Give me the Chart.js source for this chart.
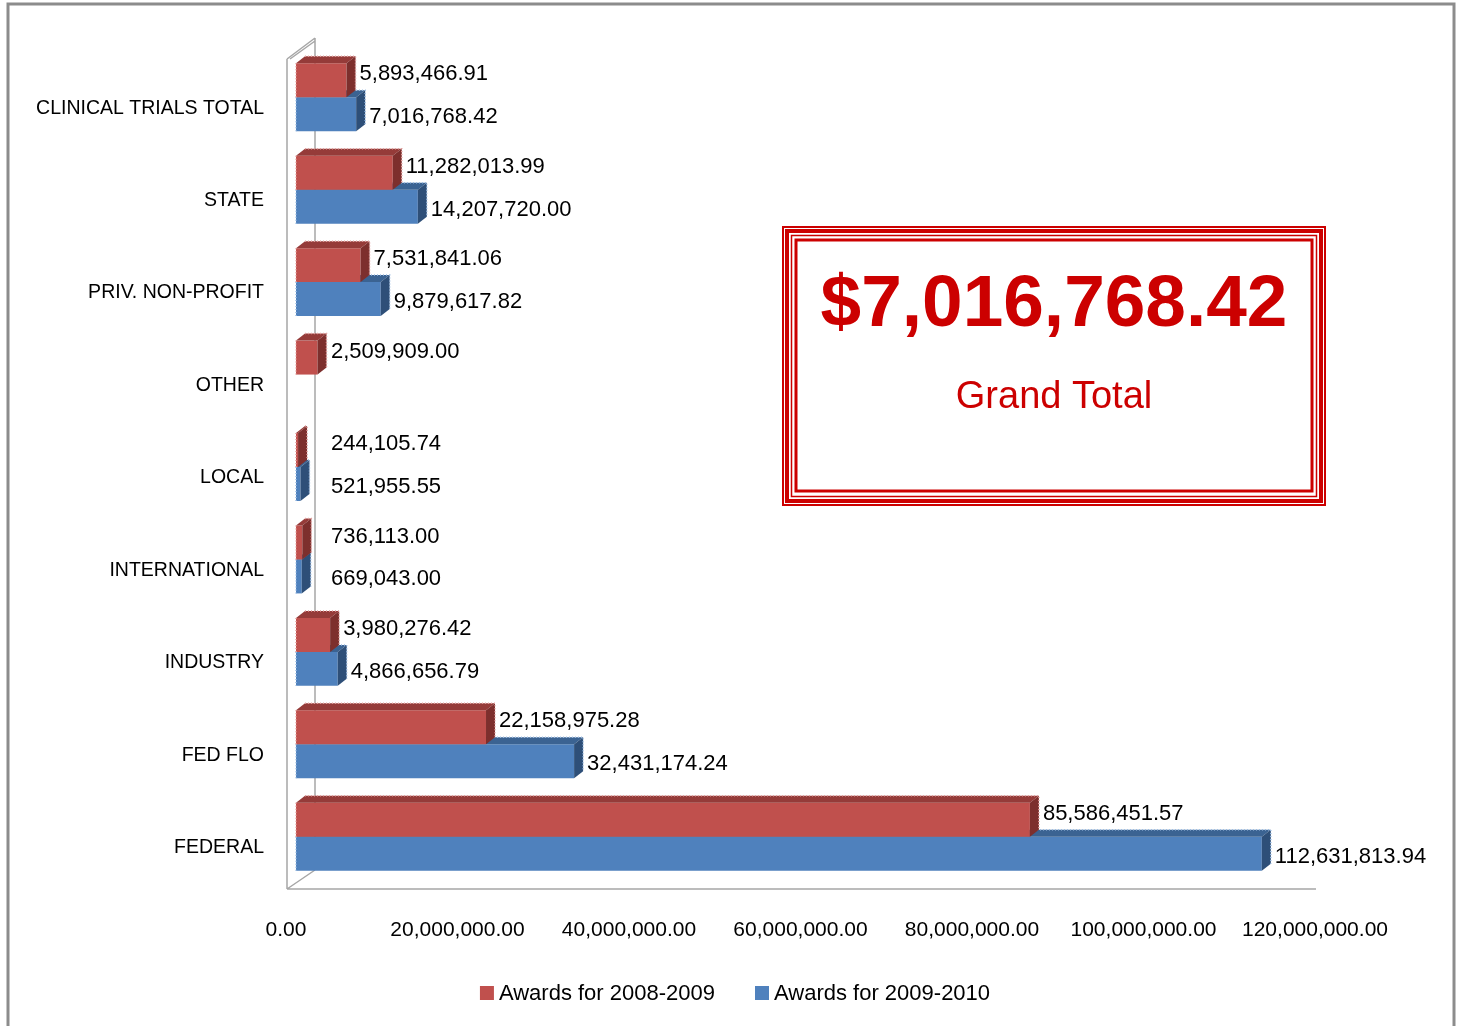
<!DOCTYPE html>
<html>
<head>
<meta charset="utf-8">
<title>Awards by sponsor type</title>
<script src="https://cdn.jsdelivr.net/npm/chart.js@4.4.1/dist/chart.umd.min.js"></script>
<style>
  html, body { margin: 0; padding: 0; background: #fff; }
  #wrap { width: 1458px; height: 1026px; }
</style>
</head>
<body>
<div id="wrap"><canvas id="c" width="1458" height="1026"></canvas></div>
<script>
// données
const categories = ['CLINICAL TRIALS TOTAL', 'STATE', 'PRIV. NON-PROFIT', 'OTHER', 'LOCAL',
  'INTERNATIONAL', 'INDUSTRY', 'FED FLO', 'FEDERAL'];
const awards0809 = [5893466.91, 11282013.99, 7531841.06, 2509909.00, 244105.74,
  736113.00, 3980276.42, 22158975.28, 85586451.57];
const awards0910 = [7016768.42, 14207720.00, 9879617.82, null, 521955.55,
  669043.00, 4866656.79, 32431174.24, 112631813.94];
const seriesNames = ['Awards for 2008-2009', 'Awards for 2009-2010'];
const xTickValues = [0, 20000000, 40000000, 60000000, 80000000, 100000000, 120000000];
const grandTotal = '$7,016,768.42';
const grandTotalLabel = 'Grand Total';

const FONT = "'Liberation Sans', Arial, sans-serif";
const DX = 9, DY = -7; // profondeur 3D
const faces = [
  { front: '#C0504D', top: '#953B39', side: '#7D2F2D', edge: '#E3A09E' },
  { front: '#4F81BD', top: '#3B6392', side: '#2E4F78', edge: '#9DBDE3' }
];

function fmt(v) {
  return v.toLocaleString('en-US', { minimumFractionDigits: 2, maximumFractionDigits: 2 });
}

// murs / plancher 3D + cadre gris
const wallPlugin = {
  id: 'wall',
  beforeDatasetsDraw(chart) {
    const { ctx, chartArea: a } = chart;
    ctx.save();
    ctx.strokeStyle = '#8C8C8C';
    ctx.lineWidth = 3;
    ctx.strokeRect(8, 4, 1446, 1060);

    ctx.strokeStyle = '#A6A6A6';
    ctx.lineWidth = 1.5;
    const fx = a.left - 9, bx = a.left + 19;
    ctx.beginPath();
    ctx.moveTo(bx, a.top - 13); ctx.lineTo(bx, a.bottom - 13);
    ctx.moveTo(fx, a.top + 8); ctx.lineTo(fx, a.bottom + 6);
    ctx.moveTo(fx, a.top + 8); ctx.lineTo(bx, a.top - 13);
    ctx.moveTo(fx + 3, a.top + 8); ctx.lineTo(bx, a.top - 10);
    ctx.moveTo(fx, a.bottom + 6); ctx.lineTo(bx, a.bottom - 13);
    ctx.moveTo(fx, a.bottom + 6); ctx.lineTo(a.right - 9, a.bottom + 6);
    ctx.stroke();
    ctx.restore();
  }
};

// faces du dessus et de côté, après chaque série
const bar3dPlugin = {
  id: 'bar3d',
  afterDatasetDraw(chart, args) {
    const ctx = chart.ctx;
    const c = faces[args.index];
    const data = chart.data.datasets[args.index].data;
    ctx.save();
    args.meta.data.forEach((el, i) => {
      if (data[i] == null) return;
      const { x, y, base, height } = el.getProps(['x', 'y', 'base', 'height'], true);
      const t = y - height / 2, b = y + height / 2;
      ctx.fillStyle = c.top;
      ctx.beginPath();
      ctx.moveTo(base, t); ctx.lineTo(base + DX, t + DY); ctx.lineTo(x + DX, t + DY); ctx.lineTo(x, t);
      ctx.closePath(); ctx.fill();
      ctx.fillStyle = c.side;
      ctx.beginPath();
      ctx.moveTo(x, t); ctx.lineTo(x + DX, t + DY); ctx.lineTo(x + DX, b + DY); ctx.lineTo(x, b);
      ctx.closePath(); ctx.fill();
      // bords pointillés
      ctx.strokeStyle = c.edge;
      ctx.lineWidth = 1.5;
      ctx.setLineDash([1, 2]);
      ctx.beginPath();
      ctx.moveTo(base, t); ctx.lineTo(base, b);
      ctx.moveTo(base + DX, t + DY); ctx.lineTo(x + DX, t + DY); ctx.lineTo(x + DX, b + DY);
      ctx.stroke();
      ctx.setLineDash([]);
    });
    ctx.restore();
  }
};

// étiquettes de valeurs, légende et encadré du total
const labelPlugin = {
  id: 'labels',
  afterDraw(chart) {
    const { ctx, chartArea: a } = chart;
    ctx.save();
    ctx.font = '22px ' + FONT;
    ctx.fillStyle = '#000';
    ctx.textBaseline = 'middle';
    ctx.textAlign = 'left';
    chart.data.datasets.forEach((ds, di) => {
      const meta = chart.getDatasetMeta(di);
      meta.data.forEach((el, i) => {
        const v = ds.data[i];
        if (v == null) return;
        const lx = Math.max(el.x + DX + 4, a.left + 35);
        const ly = el.y + (di === 0 ? -6 : 3);
        ctx.fillText(fmt(v), lx, ly);
      });
    });

    // légende
    const items = chart.data.datasets.map((ds, di) => ({ text: ds.label, color: faces[di].front }));
    const gap = 40, box = 14, boxGap = 5;
    const widths = items.map(it => box + boxGap + ctx.measureText(it.text).width);
    const total = widths.reduce((s, w) => s + w, 0) + gap * (items.length - 1);
    let lx = 735 - total / 2;
    const ly = 993;
    items.forEach((it, k) => {
      ctx.fillStyle = it.color;
      ctx.fillRect(lx, ly - 7, box, box);
      ctx.fillStyle = '#000';
      ctx.fillText(it.text, lx + box + boxGap, ly + 1);
      lx += widths[k] + gap;
    });

    // encadré Grand Total
    ctx.strokeStyle = '#CC0000';
    ctx.lineWidth = 2; ctx.strokeRect(783, 227, 542, 278);
    ctx.lineWidth = 4; ctx.strokeRect(787, 231, 534, 270);
    ctx.lineWidth = 1.5; ctx.strokeRect(791.5, 235.5, 525, 261);
    ctx.lineWidth = 3; ctx.strokeRect(796, 240, 516, 251);
    ctx.fillStyle = '#CC0000';
    ctx.textAlign = 'center';
    ctx.textBaseline = 'alphabetic';
    ctx.font = 'bold 73px ' + FONT;
    ctx.fillText(grandTotal, 1054, 326);
    ctx.font = '38px ' + FONT;
    ctx.fillText(grandTotalLabel, 1054, 408);
    ctx.restore();
  }
};

Chart.defaults.font.family = FONT;
Chart.defaults.color = '#000';

new Chart(document.getElementById('c'), {
  type: 'bar',
  data: {
    labels: categories,
    datasets: [
      { label: seriesNames[0], data: awards0809, backgroundColor: faces[0].front },
      { label: seriesNames[1], data: awards0910, backgroundColor: faces[1].front }
    ]
  },
  options: {
    indexAxis: 'y',
    responsive: false,
    animation: false,
    devicePixelRatio: 1,
    categoryPercentage: 0.735,
    barPercentage: 1,
    layout: { padding: { left: 0, right: 133, top: 51, bottom: 83 } },
    plugins: {
      legend: { display: false },
      tooltip: { enabled: false }
    },
    scales: {
      y: {
        grid: { display: false, drawTicks: false },
        border: { display: false },
        ticks: { font: { size: 19.5 }, color: '#000', padding: 32, labelOffset: 11 },
        afterFit(s) { s.width = 296; }
      },
      x: {
        min: 0,
        max: 120000000,
        grid: { display: false, drawTicks: false },
        border: { display: false },
        afterBuildTicks(s) { s.ticks = xTickValues.map(v => ({ value: v })); },
        ticks: {
          font: { size: 21 }, color: '#000', padding: 35, labelOffset: -10,
          maxRotation: 0, autoSkip: false,
          callback: v => fmt(v)
        },
        afterFit(s) { s.height = 60; }
      }
    }
  },
  plugins: [wallPlugin, bar3dPlugin, labelPlugin]
});
</script>
</body>
</html>
